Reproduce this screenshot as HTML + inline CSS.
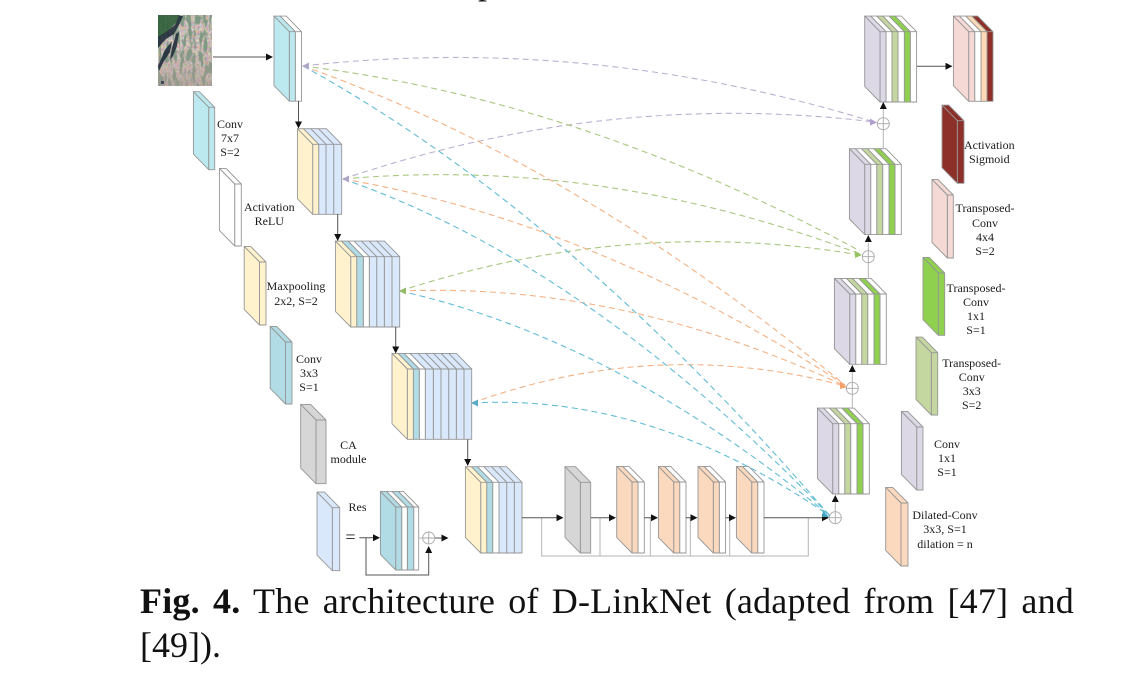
<!DOCTYPE html>
<html><head><meta charset="utf-8"><style>
html,body{margin:0;padding:0;background:#fff}
svg{display:block;filter:blur(.3px)}
.l text{font:12px "Liberation Serif",serif;fill:#1a1a1a;text-anchor:middle}
.cap{font-family:"Liberation Serif",serif;font-size:36px;fill:#111}
.j{letter-spacing:.2px;word-spacing:4px}
.w{fill:#fff}.y{fill:#fff2cc}.b{fill:#dae8fc}.t{fill:#b1dbe5}.c{fill:#bce9f0}.g{fill:#d6d6d6}.o{fill:#fbd9bf}.p{fill:#dcd8e6}.lg{fill:#c5d7a0}.gr{fill:#8fd14f}.pk{fill:#f4d9d5}.dr{fill:#8c3029}.pc{fill:#fdd9b5}
.s path,.s{stroke:#969696;stroke-width:.9;stroke-linejoin:round}
.n{fill:none;stroke:#555;stroke-width:1}
.k{fill:none;stroke:#b5b5b5;stroke-width:1}
.d{fill:none;stroke-width:1.1;stroke-dasharray:6 4}
</style></head><body>
<svg xmlns="http://www.w3.org/2000/svg" width="1122" height="683" viewBox="0 0 1122 683">
<defs>
<filter id="sat" x="0" y="0" width="100%" height="100%"><feTurbulence type="fractalNoise" baseFrequency=".45" numOctaves="2" seed="11"/><feColorMatrix values=".9 0 0 0 .2  0 .9 0 0 .1  0 0 .9 0 .07  0 0 0 0 1"/></filter>
<filter id="str" x="0" y="0" width="100%" height="100%"><feTurbulence type="fractalNoise" baseFrequency=".26 .08" numOctaves="2" seed="4"/><feColorMatrix values="0 0 0 0 .17  0 0 0 0 .29  0 0 0 0 .2  7 0 0 0 -3.3"/></filter>
<linearGradient id="fade" x1="0" y1="0" x2="0" y2="1"><stop offset=".45" stop-color="#a99a92" stop-opacity="0"/><stop offset="1" stop-color="#a99a92" stop-opacity=".55"/></linearGradient>
<clipPath id="ic"><rect x="158" y="15" width="54" height="71"/></clipPath>
<g id="bd" class="s"><path class="w" d="M30.3 70.3V0l-15.3-15.6h6.3l15.3 15.6v70.3h-6.3zM30.3 0h6.3"/><path class="gr" d="M24.3 70.3V0l-15.3-15.6h6l15.3 15.6v70.3h-6zM24.3 0h6"/><path class="w" d="M18 70.3V0l-15.3-15.6h6.3l15.3 15.6v70.3h-6.3zM18 0h6.3"/><path class="lg" d="M12 70.3V0l-15.3-15.6h6l15.3 15.6v70.3h-6zM12 0h6"/><path class="w" d="M6 70.3V0l-15.3-15.6h6l15.3 15.6v70.3h-6zM6 0h6"/><path class="p" d="M0 70.3V0l-15.3-15.6h6l15.3 15.6v70.3h-6zM0 0h6"/><path class="p" d="M0 0l-15.3-15.6v70.3l15.3 15.6z"/></g>
<g id="bo" class="s"><path class="w" d="M6 71V0l-15.3-15.6h6.3l15.3 15.6v71h-6.3zM6 0h6.3"/><path class="o" d="M0 71V0l-15.3-15.6h6l15.3 15.6v71h-6zM0 0h6"/><path class="o" d="M0 0l-15.3-15.6v71l15.3 15.6z"/></g>
</defs>

<text class="cap" x="478" y="-6">p</text>

<!-- input image -->
<g clip-path="url(#ic)">
<rect x="158" y="15" width="54" height="71" fill="#a08c84"/>
<rect x="158" y="15" width="54" height="71" filter="url(#sat)" opacity=".85"/>
<rect x="158" y="15" width="54" height="71" filter="url(#str)" opacity=".85"/>
<rect x="158" y="15" width="54" height="71" fill="url(#fade)"/>
<path d="M158 15h22l-4 8-8 8-10 7-0 0z" fill="#2f5f3a" opacity=".9"/>
<path d="M158 48l8-9 8-5 5-9 4-9h-4l-4 9-9 7-8 5zM158 66l7-16 7-9-2 11-6 9-5 10zM176 34l3-2-2 14-4 10-3 4 2-12z" fill="#1d2a38" opacity=".88"/>
<rect x="161" y="81" width="3" height="3" fill="#1a1f44" opacity=".7"/>
</g>

<!-- encoder -->
<g transform="translate(289.3 31.7)" class="s"><path class="w" d="M6 69.5V0l-15.3-15.6h6.2l15.3 15.6v69.5h-6.2zM6 0h6.2"/><path class="c" d="M0 69.5V0l-15.3-15.6h6l15.3 15.6v69.5h-6zM0 0h6"/><path class="c" d="M0 0l-15.3-15.6v69.5l15.3 15.6z"/></g>

<g transform="translate(312.7 144.3)" class="s"><path class="b" d="M21 70V0l-15.3-15.6h8l15.3 15.6v70h-8zM21 0h8"/><path class="b" d="M13.3 70V0l-15.3-15.6h7.7l15.3 15.6v70h-7.7zM13.3 0h7.7"/><path class="b" d="M6 70V0l-15.3-15.6h7.3l15.3 15.6v70h-7.3zM6 0h7.3"/><path class="y" d="M0 70V0l-15.3-15.6h6l15.3 15.6v70h-6zM0 0h6"/><path class="y" d="M0 0l-15.3-15.6v70l15.3 15.6z"/></g>

<g transform="translate(350.7 256.7)" class="s"><path class="b" d="M41.3 70.3V0l-15.3-15.6h7.7l15.3 15.6v70.3h-7.7zM41.3 0h7.7"/><path class="b" d="M33.6 70.3V0l-15.3-15.6h7.7l15.3 15.6v70.3h-7.7zM33.6 0h7.7"/><path class="b" d="M26 70.3V0l-15.3-15.6h7.6l15.3 15.6v70.3h-7.6zM26 0h7.6"/><path class="b" d="M18.6 70.3V0l-15.3-15.6h7.4l15.3 15.6v70.3h-7.4zM18.6 0h7.4"/><path class="w" d="M12.6 70.3V0l-15.3-15.6h6l15.3 15.6v70.3h-6zM12.6 0h6"/><path class="t" d="M6 70.3V0l-15.3-15.6h6.6l15.3 15.6v70.3h-6.6zM6 0h6.6"/><path class="y" d="M0 70.3V0l-15.3-15.6h6l15.3 15.6v70.3h-6zM0 0h6"/><path class="y" d="M0 0l-15.3-15.6v70.3l15.3 15.6z"/></g>

<g transform="translate(407.3 369)" class="s"><path class="b" d="M56.7 70.3V0l-15.3-15.6h7.7l15.3 15.6v70.3h-7.7zM56.7 0h7.7"/><path class="b" d="M49 70.3V0l-15.3-15.6h7.7l15.3 15.6v70.3h-7.7zM49 0h7.7"/><path class="b" d="M41.4 70.3V0l-15.3-15.6h7.6l15.3 15.6v70.3h-7.6zM41.4 0h7.6"/><path class="b" d="M33.7 70.3V0l-15.3-15.6h7.7l15.3 15.6v70.3h-7.7zM33.7 0h7.7"/><path class="b" d="M26 70.3V0l-15.3-15.6h7.7l15.3 15.6v70.3h-7.7zM26 0h7.7"/><path class="b" d="M18 70.3V0l-15.3-15.6h8l15.3 15.6v70.3h-8zM18 0h8"/><path class="w" d="M12 70.3V0l-15.3-15.6h6l15.3 15.6v70.3h-6zM12 0h6"/><path class="t" d="M6 70.3V0l-15.3-15.6h6l15.3 15.6v70.3h-6zM6 0h6"/><path class="y" d="M0 70.3V0l-15.3-15.6h6l15.3 15.6v70.3h-6zM0 0h6"/><path class="y" d="M0 0l-15.3-15.6v70.3l15.3 15.6z"/></g>

<g transform="translate(480.7 482.3)" class="s"><path class="b" d="M33.6 70.7V0l-15.3-15.6h7.7l15.3 15.6v70.7h-7.7zM33.6 0h7.7"/><path class="b" d="M26 70.7V0l-15.3-15.6h7.6l15.3 15.6v70.7h-7.6zM26 0h7.6"/><path class="b" d="M18.3 70.7V0l-15.3-15.6h7.7l15.3 15.6v70.7h-7.7zM18.3 0h7.7"/><path class="w" d="M12 70.7V0l-15.3-15.6h6.3l15.3 15.6v70.7h-6.3zM12 0h6.3"/><path class="t" d="M6 70.7V0l-15.3-15.6h6l15.3 15.6v70.7h-6zM6 0h6"/><path class="y" d="M0 70.7V0l-15.3-15.6h6l15.3 15.6v70.7h-6zM0 0h6"/><path class="y" d="M0 0l-15.3-15.6v70.7l15.3 15.6z"/></g>

<g transform="translate(580.3 482.3)" class="s"><path class="g" d="M0 70.7V0l-15.3-15.6h10.4l15.3 15.6v70.7h-10.4zM0 0h10.4"/><path class="g" d="M0 0l-15.3-15.6v70.7l15.3 15.6z"/></g>

<use href="#bo" transform="translate(632 482)"/>
<use href="#bo" transform="translate(673.7 482)"/>
<use href="#bo" transform="translate(713.3 482)"/>
<use href="#bo" transform="translate(751.7 482)"/>

<!-- decoder -->
<use href="#bd" transform="translate(832.7 423.7)"/>
<use href="#bd" transform="translate(849.7 294)"/>
<use href="#bd" transform="translate(864.7 164.3)"/>
<use href="#bd" transform="translate(880 31.7)"/>

<g transform="translate(968.7 31.7)" class="s"><path class="dr" d="M18.3 69.6V0l-15.3-15.6h6l15.3 15.6v69.6h-6zM18.3 0h6"/><path class="pc" d="M12.3 69.6V0l-15.3-15.6h6l15.3 15.6v69.6h-6zM12.3 0h6"/><path class="w" d="M6 69.6V0l-15.3-15.6h6.3l15.3 15.6v69.6h-6.3zM6 0h6.3"/><path class="pk" d="M0 69.6V0l-15.3-15.6h6l15.3 15.6v69.6h-6zM0 0h6"/><path class="pk" d="M0 0l-15.3-15.6v69.6l15.3 15.6z"/></g>

<!-- res block -->
<g transform="translate(395.7 507)" class="s"><path class="w" d="M18 63V0l-15.3-15.6h5l15.3 15.6v63h-5zM18 0h5"/><path class="t" d="M11.6 63V0l-15.3-15.6h6.4l15.3 15.6v63h-6.4zM11.6 0h6.4"/><path class="w" d="M6 63V0l-15.3-15.6h5.6l15.3 15.6v63h-5.6zM6 0h5.6"/><path class="t" d="M0 63V0l-15.3-15.6h6l15.3 15.6v63h-6zM0 0h6"/><path class="t" d="M0 0l-15.3-15.6v63l15.3 15.6z"/></g>

<!-- legend blocks -->
<g transform="translate(208.7 107.3)" class="s"><path class="c" d="M0 62.4V0l-15.3-15.6h6l15.3 15.6v62.4h-6zM0 0h6"/><path class="c" d="M0 0l-15.3-15.6v62.4l15.3 15.6z"/></g>
<g transform="translate(234.7 184)" class="s"><path class="w" d="M0 62V0l-15.3-15.6h6.6l15.3 15.6v62h-6.6zM0 0h6.6"/><path class="w" d="M0 0l-15.3-15.6v62l15.3 15.6z"/></g>
<g transform="translate(259.5 262)" class="s"><path class="y" d="M0 63V0l-15.3-15.6h6.5l15.3 15.6v63h-6.5zM0 0h6.5"/><path class="y" d="M0 0l-15.3-15.6v63l15.3 15.6z"/></g>
<g transform="translate(285.5 342)" class="s"><path class="t" d="M0 62V0l-15.3-15.6h6.5l15.3 15.6v62h-6.5zM0 0h6.5"/><path class="t" d="M0 0l-15.3-15.6v62l15.3 15.6z"/></g>
<g transform="translate(316 420)" class="s"><path class="g" d="M0 63.7V0l-15.3-15.6h10l15.3 15.6v63.7h-10zM0 0h10"/><path class="g" d="M0 0l-15.3-15.6v63.7l15.3 15.6z"/></g>
<g transform="translate(332.3 507.7)" class="s"><path class="b" d="M0 63V0l-15.3-15.6h7.4l15.3 15.6v63h-7.4zM0 0h7.4"/><path class="b" d="M0 0l-15.3-15.6v63l15.3 15.6z"/></g>
<g transform="translate(957.3 120.7)" class="s"><path class="dr" d="M0 62.6V0l-15.3-15.6h6.7l15.3 15.6v62.6h-6.7zM0 0h6.7"/><path class="dr" d="M0 0l-15.3-15.6v62.6l15.3 15.6z"/></g>
<g transform="translate(947.3 195)" class="s"><path class="pk" d="M0 63V0l-15.3-15.6h6l15.3 15.6v63h-6zM0 0h6"/><path class="pk" d="M0 0l-15.3-15.6v63l15.3 15.6z"/></g>
<g transform="translate(938.3 273)" class="s"><path class="gr" d="M0 62.3V0l-15.3-15.6h6.4l15.3 15.6v62.3h-6.4zM0 0h6.4"/><path class="gr" d="M0 0l-15.3-15.6v62.3l15.3 15.6z"/></g>
<g transform="translate(931.3 352.7)" class="s"><path class="lg" d="M0 62.3V0l-15.3-15.6h6.4l15.3 15.6v62.3h-6.4zM0 0h6.4"/><path class="lg" d="M0 0l-15.3-15.6v62.3l15.3 15.6z"/></g>
<g transform="translate(916.7 427)" class="s"><path class="p" d="M0 63V0l-15.3-15.6h6.3l15.3 15.6v63h-6.3zM0 0h6.3"/><path class="p" d="M0 0l-15.3-15.6v63l15.3 15.6z"/></g>
<g transform="translate(901 503)" class="s"><path class="o" d="M0 63V0l-15.3-15.6h7l15.3 15.6v63h-7zM0 0h7"/><path class="o" d="M0 0l-15.3-15.6v63l15.3 15.6z"/></g>

<!-- skip connections (light) -->
<path class="k" d="M541.7 517.7V556H808.3V517.7M600 517.7V556M650.3 517.7V556M690.3 517.7V556M729.7 517.7V556"/>
<path class="k" d="M852.3 409V394.3M868.3 279V262.7M883.3 149V129.7M835.3 511.7V502M852.3 382.3V372M868.3 250.7V243M883.3 117.7V109"/>
<path class="k" d="M418.7 538H422.7"/>

<!-- dark connectors -->
<path class="n" d="M213 57H268M298.5 101V123M337.7 214V236M395.7 327V348M467.7 439.5V461M522 517.7H558M590.7 517.7H611M644.3 517.7H653M685.7 517.7H692M725.7 517.7H731M764 517.7H824M917 66.3H947M359.3 537.7H376M366 537.7V575H428.7V550M434.7 538H444"/>
<path d="M273 57l-7-3.5v7zM298.5 128.5l-3.5-7h7zM337.7 241l-3.5-7h7zM395.7 353.5l-3.5-7h7zM467.7 466l-3.5-7h7zM563.5 517.7l-7-3.5v7zM616 517.7l-7-3.5v7zM658 517.7l-7-3.5v7zM697.5 517.7l-7-3.5v7zM736 517.7l-7-3.5v7zM829 517.7l-7-3.5v7zM952.5 66.3l-7-3.5v7zM380 537.7l-7-3.5v7zM448.5 538l-7-3.5v7zM428.7 546l-3.5 7h7zM835.3 495l-3.5 7h7zM852.3 365l-3.5 7h7zM868.3 235l-3.5 7h7zM883.3 102l-3.5 7h7z" fill="#111"/>

<!-- plus nodes -->
<g fill="#fff" stroke="#a8a8a8" stroke-width=".9">
<circle cx="835.3" cy="517.7" r="6"/><path d="M829.3 517.7h12M835.3 511.7v12"/>
<circle cx="852.3" cy="388.3" r="6"/><path d="M846.3 388.3h12M852.3 382.3v12"/>
<circle cx="868.3" cy="256.7" r="6"/><path d="M862.3 256.7h12M868.3 250.7v12"/>
<circle cx="883.3" cy="123.7" r="6"/><path d="M877.3 123.7h12M883.3 117.7v12"/>
<circle cx="428.7" cy="538" r="6"/><path d="M422.7 538h12M428.7 532v12"/>
</g>

<!-- dashed arcs -->
<g class="d" stroke="#bcb0d2">
<path d="M303 66Q588 34 874 122"/>
<path d="M343 179Q608 89.5 874 122"/>
</g>
<g class="d" stroke="#a9c77f">
<path d="M303 66Q581 100 860 251"/>
<path d="M343 179Q601 156 860 254"/>
<path d="M400 291Q630 216 860 255"/>
</g>
<g class="d" stroke="#f4b183">
<path d="M303 66Q574 162 845 385"/>
<path d="M343 179Q594 222 845 385"/>
<path d="M400 291Q622 282 845 386"/>
<path d="M472 403Q658 336 845 386"/>
</g>
<g class="d" stroke="#62bcd6">
<path d="M303 66Q566 210 830 516"/>
<path d="M343 179Q586 263 830 516"/>
<path d="M400 291Q615 339 830 516"/>
<path d="M472 403Q651 393 830 516"/>
</g>

<!-- coloured arrowheads -->
<path d="M302 66l7-3.5v7z" fill="#b0a6c8"/>
<path d="M342 179l7-3.5v7z" fill="#b0a6c8"/>
<path d="M399 291l7-3.5v7z" fill="#93bb6a"/>
<path d="M471 403l7-3.5v7z" fill="#58abc4"/>
<path d="M877 122.5l-7-4v7z" fill="#b0a0d0"/>
<path d="M862 255l-7-4v7z" fill="#93c45e"/>
<path d="M847 387l-7-5v7z" fill="#f3a06a"/>
<path d="M829 517l-6-6-1 6z" fill="#3fa6c6"/>

<!-- labels -->
<g class="l">
<text x="230" y="128">Conv</text><text x="230" y="142">7x7</text><text x="230" y="156">S=2</text>
<text x="269.3" y="211">Activation</text><text x="269.3" y="225">ReLU</text>
<text x="296" y="290">Maxpooling</text><text x="296" y="305">2x2, S=2</text>
<text x="309" y="363">Conv</text><text x="309" y="377">3x3</text><text x="309" y="391">S=1</text>
<text x="348.5" y="449">CA</text><text x="348.5" y="463">module</text>
<text x="357.5" y="511">Res</text>
<text x="350.5" y="543" style="font-size:18px">=</text>
<text x="989.3" y="149">Activation</text><text x="989.3" y="163">Sigmoid</text>
<text x="985" y="212">Transposed-</text><text x="985" y="227">Conv</text><text x="985" y="241">4x4</text><text x="985" y="255">S=2</text>
<text x="976" y="292">Transposed-</text><text x="976" y="306">Conv</text><text x="976" y="320">1x1</text><text x="976" y="334">S=1</text>
<text x="971.7" y="367">Transposed-</text><text x="971.7" y="381">Conv</text><text x="971.7" y="395">3x3</text><text x="971.7" y="409">S=2</text>
<text x="947" y="448">Conv</text><text x="947" y="462">1x1</text><text x="947" y="476">S=1</text>
<text x="945" y="519">Dilated-Conv</text><text x="945" y="533">3x3, S=1</text><text x="945" y="548">dilation = n</text>
</g>

<!-- caption -->
<text class="cap j" x="140" y="613"><tspan font-weight="bold">Fig. 4.</tspan> The architecture of D-LinkNet (adapted from [47] and</text>
<text class="cap" x="140" y="657">[49]).</text>
</svg>
</body></html>
